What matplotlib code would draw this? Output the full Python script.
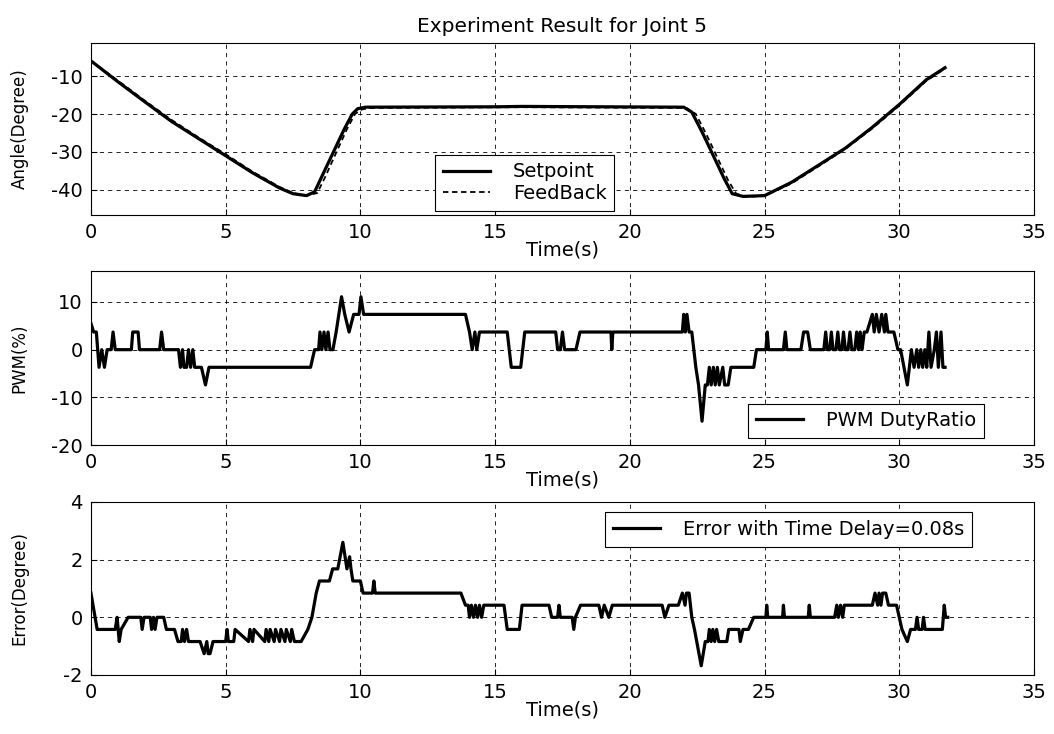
import numpy as np
import matplotlib
matplotlib.use("Agg")
import matplotlib.pyplot as plt

plt.rcParams['font.family'] = ['DejaVu Sans']
plt.rcParams['axes.unicode_minus'] = False

# angle (deg), setpoint and feedback
sp_t = [0, 1, 2, 3, 4, 5, 6, 7, 7.5, 8.0, 8.3, 8.6, 9.0, 9.4, 9.7, 9.9, 10.2, 15, 16,
        22.0, 22.3, 22.7, 23.1, 23.5, 23.8, 24.2, 25.0, 26, 27, 28, 29, 30, 31, 31.7]
sp_v = [-6, -11.5, -16.8, -22, -26.5, -31, -35.5, -39.5, -41, -41.5, -40.5, -36, -30, -24,
        -20, -18.6, -18.2, -18.1, -18.0, -18.2, -19.5, -25, -31, -37, -41, -41.7, -41.5,
        -38, -33.5, -29, -23.5, -17.5, -11, -7.8]
fb_t = [0, 1, 2, 3, 4, 5, 6, 7, 7.5, 8.0, 8.4, 8.7, 9.1, 9.5, 9.8, 10.05, 10.4, 16,
        22.1, 22.45, 22.85, 23.25, 23.65, 23.95, 24.3, 25.0, 26, 27, 28, 29, 30, 31, 31.7]
fb_v = [-6, -11.2, -16.5, -21.6, -26.2, -30.6, -35.2, -39.2, -40.8, -41.5, -40.8, -36.5,
        -30.2, -24, -20, -18.8, -18.4, -18.2, -18.4, -20, -25.5, -31.5, -37.5, -41, -41.8,
        -41.6, -38.3, -33.8, -29.2, -23.8, -17.8, -11.3, -8]

# PWM duty ratio (%)
pwm_t = [0.0, 0.1, 0.2, 0.3, 0.4, 0.5, 0.6, 0.75, 0.82, 0.9, 1.5, 1.55, 1.75, 1.8, 2.55,
         2.62, 2.7, 3.25, 3.32, 3.4, 3.45, 3.55, 3.62, 3.7, 3.78, 3.85, 4.1, 4.25, 4.38,
         8.15, 8.3, 8.45, 8.5, 8.57, 8.65, 8.72, 8.8, 8.87, 8.98, 9.1, 9.3, 9.42, 9.58,
         9.75, 9.95, 10.02, 10.12, 13.9, 14.05, 14.15, 14.25, 14.32, 14.42, 15.45, 15.6,
         15.95, 16.1, 17.25, 17.32, 17.42, 17.5, 17.58, 18.0, 18.15, 19.3, 19.33, 19.37,
         21.95, 22.0, 22.06, 22.12, 22.2, 22.3, 22.45, 22.55, 22.68, 22.8, 22.88, 22.95,
         23.02, 23.1, 23.17, 23.25, 23.32, 23.45, 23.52, 23.65, 23.75, 24.6, 24.7, 25.05,
         25.1, 25.15, 25.7, 25.77, 25.83, 26.35, 26.45, 26.6, 26.7, 27.2, 27.27, 27.33,
         27.42, 27.48, 27.54, 27.65, 27.72, 27.78, 27.87, 27.93, 28.0, 28.1, 28.17, 28.24,
         28.35, 28.42, 28.49, 28.55, 28.62, 28.7, 28.8, 29.0, 29.07, 29.15, 29.25, 29.35,
         29.45, 29.5, 29.58, 29.8, 29.95, 30.05, 30.3, 30.45, 30.55, 30.65, 30.72, 30.8,
         30.87, 30.95, 31.02, 31.1, 31.18, 31.3, 31.38, 31.45, 31.55, 31.62, 31.7]
pwm_v = [5.5, 3.7, 3.7, -3.7, 0, -3.7, 0, 0, 3.7, 0, 0, 3.7, 3.7, 0, 0,
         3.7, 0, 0, -3.7, 0, -3.7, -3.7, 0, -3.7, 0, -3.7, -3.7, -7.4, -3.7,
         -3.7, 0, 0, 3.7, 0, 3.7, 0, 3.7, 0, 0, 3.7, 11.1, 7.4, 3.7,
         7.4, 7.4, 11.1, 7.4, 7.4, 3.7, 0, 3.7, 0, 3.7, 3.7, -3.7,
         -3.7, 3.7, 3.7, 0, 0, 3.7, 0, 0, 3.7, 3.7, 0, 3.7,
         3.7, 7.4, 3.7, 7.4, 3.7, 3.7, -3.7, -7.4, -15, -7.4, -7.4, -3.7,
         -7.4, -3.7, -7.4, -3.7, -7.4, -3.7, -7.4, -7.4, -3.7, -3.7, 0, 0,
         3.7, 0, 0, 3.7, 0, 0, 3.7, 3.7, 0, 0, 3.7, 0,
         0, 3.7, 0, 0, 3.7, 0, 0, 3.7, 0, 0, 3.7, 0,
         0, 3.7, 0, 3.7, 0, 3.7, 3.7, 7.4, 3.7, 7.4, 3.7, 7.4,
         3.7, 7.4, 3.7, 3.7, 0, 0, -7.4, 0, -3.7, 0, -3.7, 0,
         -3.7, 0, -3.7, 3.7, -3.7, 0, 3.7, -3.7, 3.7, -3.7, -3.7]

# tracking error (deg)
err_t = [0.0, 0.23, 0.9, 0.97, 1.05, 1.12, 1.38, 1.85, 1.9, 1.97, 2.2, 2.25, 2.32, 2.38,
         2.45, 2.7, 2.8, 3.1, 3.23, 3.35, 3.4, 3.47, 3.55, 3.62, 3.7, 4.05, 4.2, 4.3,
         4.35, 4.42, 4.53, 5.0, 5.05, 5.1, 5.3, 5.35, 5.85, 5.9, 6.0, 6.05, 6.45, 6.5,
         6.6, 6.65, 6.8, 6.85, 7.0, 7.05, 7.2, 7.25, 7.4, 7.45, 7.55, 7.65, 7.8, 8.05,
         8.2, 8.36, 8.48, 8.85, 8.97, 9.16, 9.35, 9.5, 9.6, 9.65, 9.72, 10.0, 10.1, 10.45,
         10.5, 10.55, 13.73, 13.9, 14.0, 14.05, 14.12, 14.2, 14.27, 14.35, 14.42, 14.5,
         14.58, 14.7, 15.33, 15.45, 15.9, 16.0, 17.0, 17.1, 17.32, 17.37, 17.42, 17.86,
         17.92, 17.98, 18.17, 18.85, 18.95, 19.05, 19.22, 19.35, 21.2, 21.3, 21.45, 21.8,
         21.95, 22.05, 22.1, 22.2, 22.25, 22.3, 22.4, 22.65, 22.8, 22.9, 22.95, 23.02,
         23.08, 23.15, 23.22, 23.3, 23.6, 23.67, 24.05, 24.1, 24.2, 24.4, 24.6, 25.05,
         25.08, 25.12, 25.67, 25.7, 25.74, 26.62, 26.66, 26.7, 27.6, 27.68, 27.74, 27.82,
         27.9, 27.96, 28.3, 29.0, 29.1, 29.2, 29.25, 29.32, 29.38, 29.5, 29.6, 29.9,
         30.1, 30.3, 30.42, 30.6, 30.66, 30.72, 30.85, 30.9, 30.96, 31.6, 31.67, 31.72, 31.8]
err_v = [0.84, -0.42, -0.42, 0, -0.84, -0.42, 0, 0, -0.42, 0, 0, -0.42, 0, -0.42,
         0, 0, -0.42, -0.42, -0.84, -0.84, -0.42, -0.84, -0.42, -0.84, -0.84, -0.84, -1.26, -0.84,
         -1.26, -1.26, -0.84, -0.84, -0.42, -0.84, -0.84, -0.42, -0.84, -0.42, -0.84, -0.42, -0.84, -0.42,
         -0.84, -0.42, -0.84, -0.42, -0.84, -0.42, -0.84, -0.42, -0.84, -0.42, -0.84, -0.84, -0.84, -0.42,
         0, 0.84, 1.26, 1.26, 1.68, 1.68, 2.6, 1.68, 2.1, 1.68, 1.26, 1.26, 0.84, 0.84,
         1.26, 0.84, 0.84, 0.42, 0.42, 0, 0.42, 0, 0.42, 0, 0.42, 0,
         0.42, 0.42, 0.42, -0.42, -0.42, 0.42, 0.42, 0, 0, 0.42, 0, 0,
         -0.42, 0, 0.42, 0.42, 0, 0.42, 0, 0.42, 0.42, 0, 0.42, 0.42,
         0.84, 0.42, 0.84, 0.84, 0.42, 0, -0.42, -1.68, -0.84, -0.84, -0.42, -0.84,
         -0.42, -0.84, -0.42, -0.84, -0.84, -0.42, -0.42, -0.84, -0.42, -0.42, 0, 0,
         0.42, 0, 0, 0.42, 0, 0, 0.42, 0, 0, 0.42, 0, 0.42,
         0, 0.42, 0.42, 0.42, 0.84, 0.42, 0.84, 0.42, 0.84, 0.84, 0.42, 0.42,
         -0.42, -0.84, -0.42, -0.42, 0, -0.42, -0.42, 0, -0.42, -0.42, 0.42, 0, 0]

xticks = [0, 5, 10, 15, 20, 25, 30, 35]

fig = plt.figure(figsize=(10.54, 7.34), dpi=100)
L, W = 0.0863, 0.8947
ax1 = fig.add_axes([L, 0.7071, W, 0.2343])
ax2 = fig.add_axes([L, 0.3937, W, 0.2371])
ax3 = fig.add_axes([L, 0.0804, W, 0.2357])

lw = 2.3
ax1.plot(sp_t, sp_v, 'k-', lw=lw, label='Setpoint')
ax1.plot(fb_t, fb_v, color='k', ls=(0, (3, 2)), lw=1.3, label='FeedBack')
ax2.plot(pwm_t, pwm_v, 'k-', lw=lw, label='PWM DutyRatio')
ax3.plot(err_t, err_v, 'k-', lw=lw, label='Error with Time Delay=0.08s')

ax1.set_ylim(-46.6, -1.3)
ax1.set_yticks([-40, -30, -20, -10])
ax2.set_ylim(-20, 16.5)
ax2.set_yticks([-20, -10, 0, 10])
ax3.set_ylim(-2, 4)
ax3.set_yticks([-2, 0, 2, 4])

ax1.set_ylabel('Angle(Degree)', fontsize=12)
ax2.set_ylabel('PWM(%)', fontsize=12)
ax3.set_ylabel('Error(Degree)', fontsize=12)
ax1.set_title('Experiment Result for Joint 5', fontsize=14.5, pad=8)

legs = [(ax1, 'lower center', (0.46, 0.023)),
        (ax2, 'lower center', (0.822, 0.04)),
        (ax3, 'upper center', (0.74, 0.942))]
for ax, loc, anchor in legs:
    ax.set_xlim(0, 35)
    ax.set_xticks(xticks)
    ax.set_xlabel('Time(s)', fontsize=14, labelpad=-1)
    ax.yaxis.set_label_coords(-0.066, 0.5)
    ax.tick_params(direction='in', labelsize=14, length=4, width=0.8, pad=6)
    ax.grid(True, color='k', linestyle=(0, (5, 5)), linewidth=0.6)
    for s in ax.spines.values():
        s.set_linewidth(0.8)
    leg = ax.legend(loc=loc, bbox_to_anchor=anchor, fontsize=14, fancybox=False,
                    edgecolor='k', framealpha=1, handlelength=2.4, borderpad=0.4,
                    labelspacing=0.15, handletextpad=1.2, borderaxespad=0)
    leg.get_frame().set_linewidth(0.8)

fig.savefig('out.png', dpi=100)
